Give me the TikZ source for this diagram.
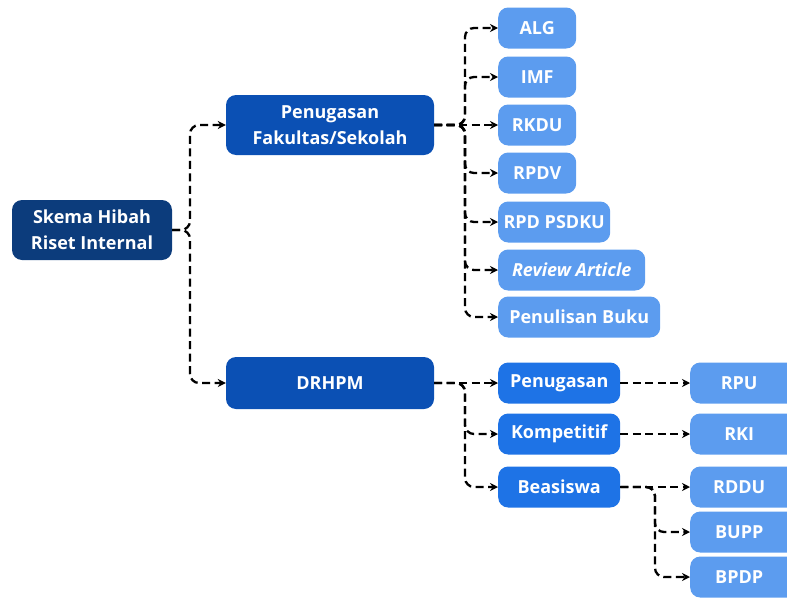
\documentclass[tikz,border=0pt]{standalone}
\usepackage{fontspec}
\setmainfont{Open Sans}
\usetikzlibrary{arrows.meta,positioning}
\definecolor{navy}{HTML}{0C3C7C}
\definecolor{midblue}{HTML}{0B50B4}
\definecolor{brblue}{HTML}{1E73E6}
\definecolor{ltblue}{HTML}{5C9CEF}

\begin{document}
\begin{tikzpicture}
		[x=1pt,y=-1pt,
		box/.style={rounded corners=10pt,text=white,font=\fontsize{18}{26}\selectfont\bfseries,align=center,inner sep=0pt},
		root node/.style={box,fill=navy,minimum width=160pt,minimum height=60pt},
		main node/.style={box,fill=midblue,minimum width=208pt},
		sub node/.style={box,fill=brblue,minimum width=122pt,minimum height=41pt},
		leaf node/.style={box,fill=ltblue,minimum height=41pt},
		link/.style={draw=black,line width=2.3pt,dash pattern=on 8pt off 4.5pt,rounded corners=9pt,-{Stealth[length=8pt,width=8pt]}}]
		\useasboundingbox (0,0) rectangle (787,597);
		
		\node[root node] (root) at (92,230) {Skema Hibah\\Riset Internal};
		
		\node[main node,minimum height=60pt] (fak) at (330,125) {Penugasan\\Fakultas/Sekolah};
		\node[main node,minimum height=52pt] (drhpm) at (330,383) {DRHPM};
		
		\node[leaf node,minimum width=78pt,anchor=west] (alg) at (498,28) {ALG};
		\node[leaf node,minimum width=78pt,anchor=west] (imf) at (498,77) {IMF};
		\node[leaf node,minimum width=78pt,anchor=west] (rkdu) at (498,125) {RKDU};
		\node[leaf node,minimum width=78pt,anchor=west] (rpdv) at (498,173) {RPDV};
		\node[leaf node,minimum width=112pt,anchor=west] (psdku) at (498,222) {RPD PSDKU};
		\node[leaf node,minimum width=147pt,anchor=west] (review) at (498,270) {\itshape Review Article};
		\node[leaf node,minimum width=162pt,anchor=west] (buku) at (498,317) {Penulisan Buku};
		
		\node[sub node,anchor=west] (tugas) at (498,383) {Penugasan};
		\node[sub node,anchor=west] (komp) at (498,434) {Kompetitif};
		\node[sub node,anchor=west] (beas) at (498,487) {Beasiswa};
		
		\node[leaf node,minimum width=110pt,anchor=west] (rpu) at (690,383) {\hspace*{-12pt}RPU};
		\node[leaf node,minimum width=110pt,anchor=west] (rki) at (690,434) {\hspace*{-12pt}RKI};
		\node[leaf node,minimum width=110pt,anchor=west] (rddu) at (690,487) {\hspace*{-12pt}RDDU};
		\node[leaf node,minimum width=110pt,anchor=west] (bupp) at (690,532) {\hspace*{-12pt}BUPP};
		\node[leaf node,minimum width=110pt,anchor=west] (bpdp) at (690,577) {\hspace*{-12pt}BPDP};
		
		% split points
		\coordinate (s0) at (190,230);
		\coordinate (s1) at (465,125);
		\coordinate (s2) at (465,383);
		\coordinate (s3) at (655,487);
		
		\draw[link] (root.east) -- (s0) |- (fak.west);
		\draw[link] (root.east) -- (s0) |- (drhpm.west);
		
		\foreach \t in {alg,imf,rpdv,psdku,review,buku}
		\draw[link] (fak.east) -- (s1) |- (\t.west);
		\draw[link] (fak.east) -- (rkdu.west);
		
		\draw[link] (drhpm.east) -- (tugas.west);
		\draw[link] (drhpm.east) -- (s2) |- (komp.west);
		\draw[link] (drhpm.east) -- (s2) |- (beas.west);
		
		\draw[link] (tugas.east) -- (rpu.west);
		\draw[link] (komp.east) -- (rki.west);
		\draw[link] (beas.east) -- (rddu.west);
		\draw[link] (beas.east) -- (s3) |- (bupp.west);
		\draw[link] (beas.east) -- (s3) |- (bpdp.west);
		\end{tikzpicture}
\end{document}
